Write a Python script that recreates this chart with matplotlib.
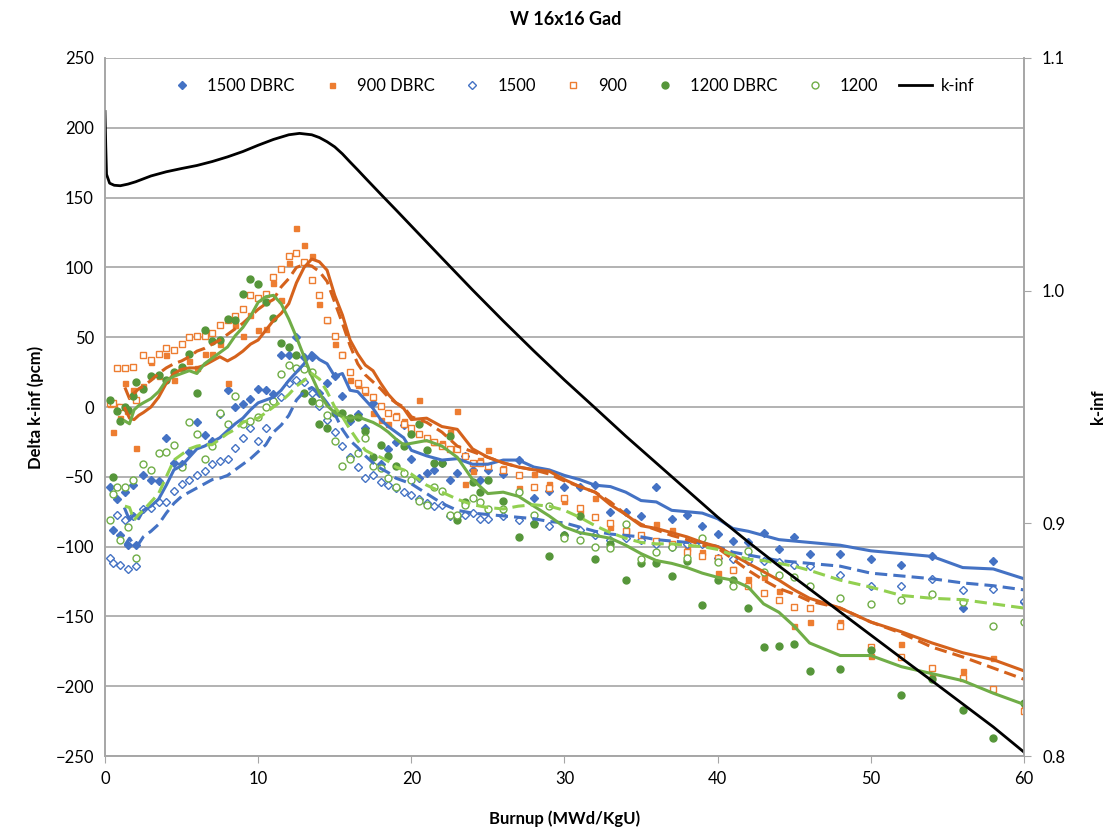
import matplotlib
matplotlib.use('Agg')
import matplotlib.pyplot as plt
from matplotlib.ticker import FormatStrFormatter

plt.rcParams['font.family'] = ['Lato', 'DejaVu Sans']

# burnup steps of the point series (MWd/KgU)
burnup = [0.3, 0.5, 0.8, 1.0, 1.3, 1.5, 1.8, 2.0,
          2.5, 3, 3.5, 4, 4.5, 5, 5.5, 6, 6.5, 7,
          7.5, 8, 8.5, 9, 9.5, 10, 10.5, 11, 11.5, 12,
          12.5, 13, 13.5, 14, 14.5, 15, 15.5, 16, 16.5, 17,
          17.5, 18, 18.5, 19, 19.5, 20, 20.5, 21, 21.5, 22,
          22.5, 23, 23.5, 24, 24.5, 25,
          26, 27, 28, 29, 30, 31, 32, 33, 34, 35, 36,
          37, 38, 39, 40, 41, 42, 43, 44, 45, 46,
          48, 50, 52, 54, 56, 58, 60]

# delta k-inf points (pcm)
dbrc_1500 = [-57, -88, -66, -92, -61, -99, -56, -99,
             -49, -52, -53, -22, -40, -41, -32, -11, -20, -24,
             -5, 12, 0, 2, 6, 13, 12, 9, 37, 37,
             50, 36, 36, 10, 17, 22, 8, -10, -5, -15,
             3, -41, -30, -25, -13, -37, -51, -47, -45, -40,
             -52, -47, -35, -45, -52, -45,
             -48, -38, -65, -60, -57, -57, -56, -75, -75, -78, -57,
             -80, -77, -85, -91, -96, -97, -90, -102, -93, -105,
             -105, -109, -113, -107, -144, -110, -140]
ref_1500 = [-108, -112, -77, -113, -81, -116, -78, -114,
            -73, -72, -68, -68, -60, -55, -52, -49, -46, -41,
            -39, -37, -29, -22, -15, -24, -15, 4, 7, 17,
            19, 18, 10, 1, -9, -18, -28, -36, -43, -51,
            -49, -54, -56, -58, -61, -63, -66, -69, -71, -70,
            -78, -78, -77, -76, -80, -80,
            -78, -81, -83, -85, -92, -88, -92, -95, -94, -95, -98,
            -100, -98, -98, -108, -109, -110, -110, -111, -113, -114,
            -120, -128, -128, -123, -131, -130, -139]
dbrc_900 = [2, -18, 1, -8, 17, -3, 12, -29,
            15, 32, 22, 37, 19, 28, 33, 28, 38, 38,
            45, 17, 59, 51, 66, 55, 56, 89, 77, 103,
            128, 116, 108, 74, 62, 45, 38, 19, 16, 11,
            -4, -9, -12, -6, -10, -18, 5, -22, -25, -26,
            -18, -3, -55, -46, -38, -31,
            -44, -58, -48, -55, -67, -76, -65, -86, -88, -93, -84,
            -88, -101, -104, -119, -116, -123, -122, -132, -157, -154,
            -154, -178, -170, -193, -189, -180, -213]
ref_900 = [3, 3, 28, 0, 28, -3, 29, 5,
           37, 34, 38, 42, 41, 45, 50, 51, 51, 53,
           59, 62, 65, 70, 80, 78, 81, 93, 99, 108,
           110, 104, 91, 80, 62, 51, 37, 25, 17, 12,
           7, 1, -4, -7, -12, -15, -19, -22, -25, -28,
           -30, -30, -35, -40, -40, -42,
           -45, -49, -57, -58, -65, -72, -79, -83, -89, -92, -96,
           -98, -104, -107, -108, -117, -128, -133, -138, -143, -144,
           -157, -172, -179, -187, -194, -202, -218]
dbrc_1200 = [5, -50, -3, -10, 0, -2, 8, 18,
             13, 22, 23, 19, 25, 29, 38, 10, 55, 47,
             48, 63, 62, 81, 92, 88, 75, 64, 46, 43,
             37, 10, 4, -12, -15, -4, -4, -8, -7, -17,
             -36, -27, -35, -42, -28, -19, -12, -31, -40, -40,
             -21, -81, -68, -54, -61, -52,
             -67, -93, -84, -107, -92, -78, -109, -98, -124, -112, -112,
             -121, -110, -142, -124, -124, -144, -172, -171, -170, -189,
             -188, -174, -206, -195, -217, -237, -212]
ref_1200 = [-81, -62, -57, -95, -57, -86, -52, -108,
            -41, -45, -33, -32, -27, -43, -11, -19, -37, -28,
            -4, -12, 8, -12, -10, -7, 0, 4, 24, 30,
            28, 27, 25, 3, -6, -24, -42, -37, -33, -22,
            -42, -44, -51, -57, -47, -52, -67, -70, -57, -60,
            -77, -77, -70, -65, -68, -73,
            -73, -61, -77, -71, -94, -95, -100, -101, -84, -109, -104,
            -100, -108, -94, -111, -128, -103, -118, -120, -122, -128,
            -137, -141, -138, -134, -140, -157, -154]

# burnup steps of the smoothed curves
line_bu = [1.3, 1.6, 1.9, 2.2,
           2.5, 3, 3.5, 4, 4.5, 5, 5.5, 6, 6.5, 7,
           7.5, 8, 8.5, 9, 9.5, 10, 10.5, 11, 11.5, 12,
           12.5, 13, 13.5, 14, 14.5, 15, 15.5, 16, 16.5, 17,
           17.5, 18, 18.5, 19, 19.5, 20,
           21, 22, 23, 24, 25, 26, 27, 28, 29, 30,
           31, 32, 33, 34, 35, 36, 37, 38, 39, 40,
           41, 42, 43, 44, 45, 46,
           48, 50, 52, 54, 56, 58, 60]

line_dbrc_900 = [-1, -8, -9, -6,
                 -4, 0, 7, 17, 24, 27, 28, 28, 30, 33,
                 36, 33, 36, 40, 45, 48, 55, 62, 67, 74,
                 89, 100, 106, 104, 98, 80, 66, 48, 38, 30,
                 26, 17, 9, 3, -1, -9,
                 -8, -14, -16, -30, -36, -40, -43, -45, -46, -52,
                 -57, -61, -70, -77, -85, -87, -90, -93, -97, -100,
                 -106, -112, -118, -124, -131, -137,
                 -144, -154, -161, -169, -176, -181, -189]
line_ref_900 = [14, 6, 10, 13,
                15, 19, 24, 28, 31, 33, 36, 40, 42, 45,
                48, 52, 56, 60, 65, 70, 74, 77, 86, 92,
                100, 102, 101, 97, 90, 75, 60, 44, 31, 23,
                18, 13, 7, 3, 0, -7,
                -11, -18, -28, -32, -36, -40, -43, -45, -48, -53,
                -57, -61, -68, -77, -84, -88, -92, -95, -99, -101,
                -109, -117, -124, -130, -134, -139,
                -144, -154, -162, -172, -179, -187, -195]
line_dbrc_1500 = [-73, -81, -77, -80,
                  -74, -71, -66, -56, -45, -42, -36, -30, -28, -25,
                  -22, -17, -12, -8, -2, 3, 5, 7, 12, 19,
                  25, 31, 39, 34, 31, 22, 24, 12, 11, 5,
                  -1, -9, -14, -18, -22, -31,
                  -35, -38, -37, -41, -41, -38, -38, -43, -45, -49,
                  -52, -56, -57, -61, -67, -68, -74, -75, -76, -80,
                  -87, -89, -92, -95, -96, -97,
                  -99, -103, -105, -107, -115, -116, -123]
line_ref_1500 = [-99, -94, -99, -98,
                 -93, -89, -84, -76, -69, -64, -61, -58, -55, -52,
                 -51, -49, -45, -41, -37, -32, -27, -18, -13, -6,
                 5, 11, 14, 10, 3, -5, -16, -24, -29, -35,
                 -40, -44, -47, -51, -53, -55,
                 -62, -69, -74, -76, -77, -78, -79, -80, -82, -83,
                 -86, -89, -91, -92, -93, -95, -96, -97, -97, -100,
                 -104, -106, -108, -110, -111, -112,
                 -114, -119, -121, -123, -126, -128, -131]
line_dbrc_1200 = [-10, -12, -2, 1,
                  3, 6, 11, 19, 22, 24, 26, 24, 31, 35,
                  39, 43, 51, 57, 65, 75, 79, 80, 74, 63,
                  50, 36, 22, 10, 1, -4, -7, -8, -7, -9,
                  -11, -14, -18, -23, -27, -26,
                  -24, -28, -36, -52, -62, -61, -64, -71, -78, -86,
                  -90, -92, -94, -99, -105, -110, -112, -115, -119, -122,
                  -124, -129, -141, -147, -157, -169,
                  -178, -178, -186, -191, -196, -205, -213]
line_ref_1200 = [-71, -72, -81, -77,
                 -74, -68, -62, -50, -38, -34, -30, -28, -27, -27,
                 -23, -19, -16, -11, -9, -8, -4, 0, 4, 9,
                 15, 19, 24, 20, 11, 0, -7, -16, -24, -31,
                 -34, -36, -39, -43, -45, -48,
                 -56, -61, -66, -70, -72, -73, -71, -70, -71, -74,
                 -79, -85, -90, -94, -97, -98, -98, -99, -100, -102,
                 -106, -109, -110, -112, -114, -117,
                 -124, -129, -135, -137, -138, -141, -144]

# k-inf (right axis)
kinf_bu = [0, 0.05, 0.1, 0.3, 0.6, 1, 1.5, 2,
           3, 4, 5, 6, 7, 8, 9, 10, 11, 12,
           12.7, 13.5, 14, 14.5, 15, 15.5, 16, 16.5, 17,
           18, 19, 20,
           22, 24, 26, 28, 30, 32, 34, 36, 38, 40,
           42, 44, 46, 48, 50, 52, 54, 56, 58, 60]
kinf = [1.077, 1.062, 1.050, 1.0462, 1.0453, 1.0451, 1.0458, 1.0468,
        1.0493, 1.0511, 1.0525, 1.0538, 1.0555, 1.0575, 1.0598, 1.0625, 1.0650, 1.0670,
        1.0676, 1.0670, 1.0658, 1.0640, 1.0618, 1.0588, 1.0553, 1.0519, 1.0484,
        1.0415, 1.0347, 1.0278,
        1.0140, 1.0003, 0.9870, 0.9741, 0.9616, 0.9496, 0.9375, 0.9259, 0.9143, 0.9027,
        0.8920, 0.8817, 0.8718, 0.8619, 0.8520, 0.8421, 0.8323, 0.8224, 0.8125, 0.8017]

BLUE = '#4472C4'
ORANGE = '#ED7D31'
ORANGE_LINE = '#D5621C'
GREEN = '#70AD47'
GREEN_DARK = '#56963A'
LIGHT_GREEN = '#92D050'
GRID = '#A6A6A6'

fig = plt.figure(figsize=(11.17, 8.32), dpi=100)
ax = fig.add_axes([0.094, 0.0913, 0.8227, 0.839])

# points
h1, = ax.plot(burnup, dbrc_1500, 'D', color=BLUE, ms=4.2, zorder=2, label='1500 DBRC')
h2, = ax.plot(burnup, dbrc_900, 's', color=ORANGE, ms=3.6, zorder=2, label='900 DBRC')
h3, = ax.plot(burnup, ref_1500, 'D', mfc='white', mec=BLUE, mew=1.0, ms=4.2, zorder=2, label='1500')
h4, = ax.plot(burnup, ref_900, 's', mfc='white', mec=ORANGE, mew=1.0, ms=3.8, zorder=2, label='900')
h5, = ax.plot(burnup, dbrc_1200, 'o', color=GREEN_DARK, ms=5, zorder=2, label='1200 DBRC')
h6, = ax.plot(burnup, ref_1200, 'o', mfc='white', mec=GREEN, mew=1.0, ms=5, zorder=2, label='1200')

# smoothed curves
dash = (0, (4, 2))
ax.plot(line_bu, line_dbrc_1500, '-', color=BLUE, lw=2.2, zorder=3)
ax.plot(line_bu, line_ref_1500, linestyle=dash, color=BLUE, lw=2.2, zorder=3)
ax.plot(line_bu, line_dbrc_900, '-', color=ORANGE_LINE, lw=2.2, zorder=3)
ax.plot(line_bu, line_ref_900, linestyle=dash, color=ORANGE_LINE, lw=2.2, zorder=3)
ax.plot(line_bu, line_dbrc_1200, '-', color=GREEN, lw=2.2, zorder=3)
ax.plot(line_bu, line_ref_1200, linestyle=dash, color=LIGHT_GREEN, lw=2.2, zorder=3)

ax.set_xlim(0, 60)
ax.set_ylim(-250, 250)
ax.set_xticks(range(0, 61, 10))
ax.set_yticks(range(-250, 251, 50))
ax.yaxis.grid(True, color=GRID, lw=1.2)
ax.set_axisbelow(True)
for s in ['left', 'bottom', 'right']:
    ax.spines[s].set_color(GRID)
    ax.spines[s].set_linewidth(1.2)
ax.spines['top'].set_visible(False)
ax.tick_params(axis='y', length=0, labelsize=12, pad=8)
ax.tick_params(axis='x', length=5, color=GRID, labelsize=12, pad=6)
ax.set_xlabel('Burnup (MWd/KgU)', fontsize=12, fontweight='bold', labelpad=17)
ax.set_ylabel('Delta k-inf (pcm)', fontsize=12, fontweight='bold', labelpad=8)

ax2 = ax.twinx()
h7, = ax2.plot(kinf_bu, kinf, '-', color='black', lw=2.0, label='k-inf')
ax2.set_ylim(0.8, 1.1)
ax2.set_yticks([0.8, 0.9, 1.0, 1.1])
ax2.yaxis.set_major_formatter(FormatStrFormatter('%.1f'))
ax2.tick_params(axis='y', length=5, color=GRID, labelsize=12, pad=8)
for s in ['left', 'bottom', 'right']:
    ax2.spines[s].set_color(GRID)
    ax2.spines[s].set_linewidth(1.2)
ax2.spines['top'].set_visible(False)
ax2.set_ylabel('k-inf', fontsize=12, fontweight='bold', labelpad=18)

ax2.legend(handles=[h1, h2, h3, h4, h5, h6, h7], loc='center',
           bbox_to_anchor=(0.506, 0.96), ncol=7, frameon=False, fontsize=12,
           handlelength=2.0, handletextpad=0.5, columnspacing=1.25)

fig.text(0.506, 0.977, 'W 16x16 Gad', ha='center', va='center',
         fontsize=13, fontweight='bold')

fig.savefig('out.png', dpi=100)
